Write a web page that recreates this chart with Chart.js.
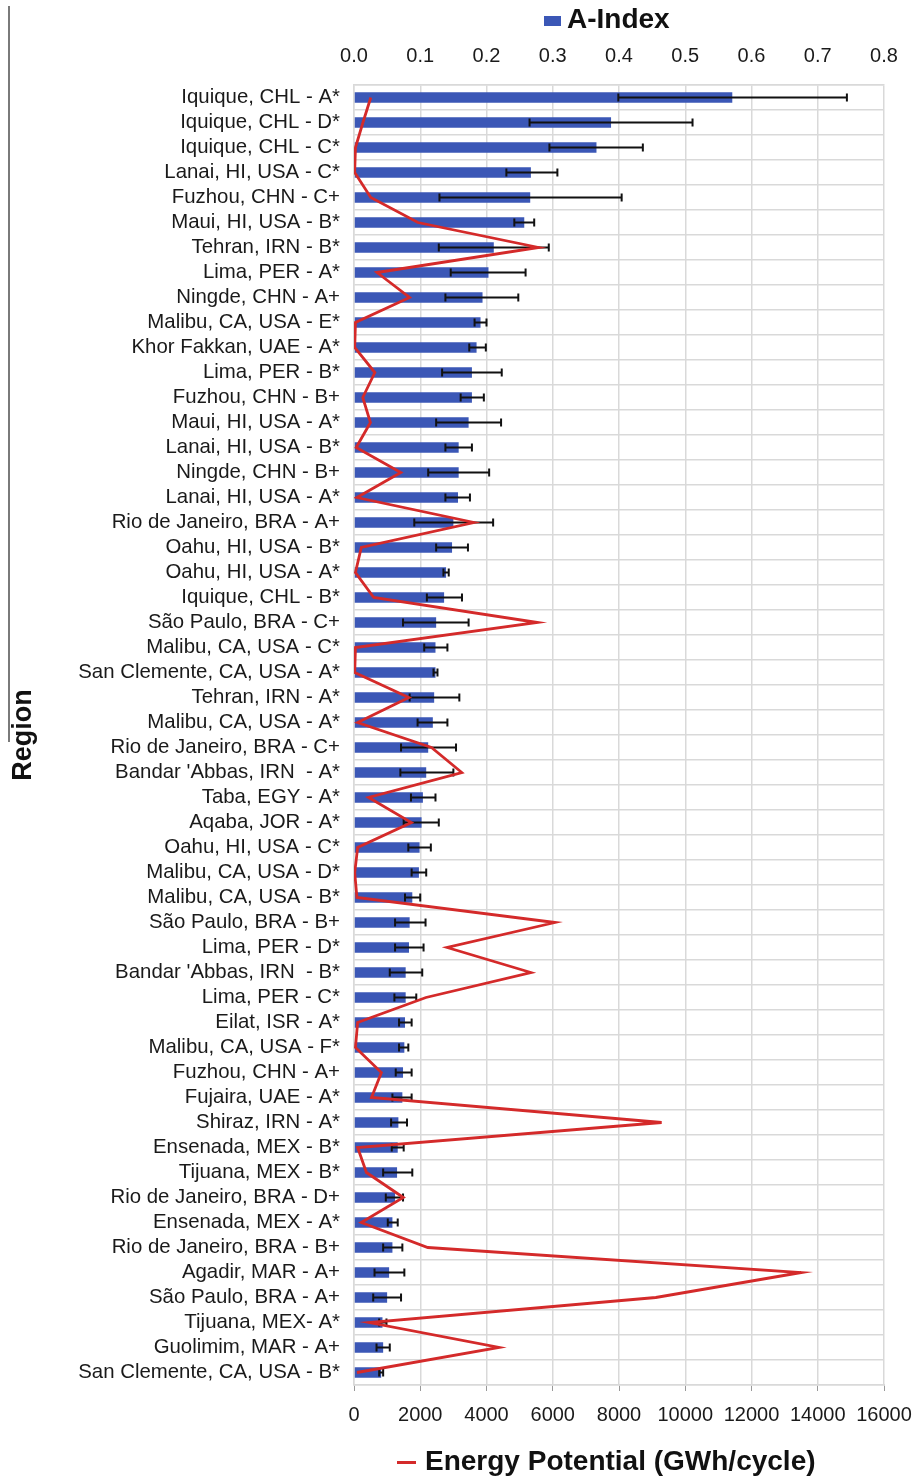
<!DOCTYPE html>
<html>
<head>
<meta charset="utf-8">
<script src="https://cdn.jsdelivr.net/npm/chart.js@4/dist/chart.umd.min.js"></script>
<style>
  html, body { margin: 0; padding: 0; background: #fff; }
  #wrap { position: relative; width: 914px; height: 1478px; font-family: "Liberation Sans", Arial, sans-serif; }
  #leftRule { position: absolute; left: 8px; top: 6px; width: 2px; height: 736px; background: #7a7a7a; }
  .legend { position: absolute; font-weight: bold; font-size: 28px; color: #111; white-space: nowrap; line-height: 1; }
  .legend .sw { display: inline-block; vertical-align: middle; margin-right: 6px; }
</style>
</head>
<body>
<div id="wrap">
  <canvas id="chart"></canvas>
  <div id="leftRule"></div>
  <div class="legend" style="left:544px; top:5px;"><span class="sw" style="width:17px;height:10px;background:#3b57b6;"></span>A-Index</div>
  <div class="legend" style="left:397px; top:1447px;"><span class="sw" style="width:19px;height:3px;background:#d42a2a;margin-right:9px;"></span>Energy Potential (GWh/cycle)</div>
</div>
<script>
// Categories (top to bottom)
const regions = [
  "Iquique, CHL - A*", "Iquique, CHL - D*", "Iquique, CHL - C*", "Lanai, HI, USA - C*",
  "Fuzhou, CHN - C+", "Maui, HI, USA - B*", "Tehran, IRN - B*", "Lima, PER - A*",
  "Ningde, CHN - A+", "Malibu, CA, USA - E*", "Khor Fakkan, UAE - A*", "Lima, PER - B*",
  "Fuzhou, CHN - B+", "Maui, HI, USA - A*", "Lanai, HI, USA - B*", "Ningde, CHN - B+",
  "Lanai, HI, USA - A*", "Rio de Janeiro, BRA - A+", "Oahu, HI, USA - B*", "Oahu, HI, USA - A*",
  "Iquique, CHL - B*", "São Paulo, BRA - C+", "Malibu, CA, USA - C*", "San Clemente, CA, USA - A*",
  "Tehran, IRN - A*", "Malibu, CA, USA - A*", "Rio de Janeiro, BRA - C+", "Bandar 'Abbas, IRN  - A*",
  "Taba, EGY - A*", "Aqaba, JOR - A*", "Oahu, HI, USA - C*", "Malibu, CA, USA - D*",
  "Malibu, CA, USA - B*", "São Paulo, BRA - B+", "Lima, PER - D*", "Bandar 'Abbas, IRN  - B*",
  "Lima, PER - C*", "Eilat, ISR - A*", "Malibu, CA, USA - F*", "Fuzhou, CHN - A+",
  "Fujaira, UAE - A*", "Shiraz, IRN - A*", "Ensenada, MEX - B*", "Tijuana, MEX - B*",
  "Rio de Janeiro, BRA - D+", "Ensenada, MEX - A*", "Rio de Janeiro, BRA - B+", "Agadir, MAR - A+",
  "São Paulo, BRA - A+", "Tijuana, MEX- A*", "Guolimim, MAR - A+", "San Clemente, CA, USA - B*"
]

// A-Index (top axis)
const aIndex = [
  0.571, 0.388, 0.366, 0.267, 0.266, 0.257, 0.211, 0.203, 0.194, 0.191,
  0.185, 0.178, 0.178, 0.173, 0.158, 0.158, 0.157, 0.150, 0.148, 0.139,
  0.136, 0.124, 0.123, 0.123, 0.121, 0.119, 0.112, 0.109, 0.104, 0.102,
  0.099, 0.098, 0.088, 0.084, 0.083, 0.078, 0.078, 0.077, 0.076, 0.074,
  0.073, 0.067, 0.066, 0.065, 0.062, 0.058, 0.058, 0.053, 0.050, 0.043,
  0.044, 0.041
]

// error bar ends
const errLow = [
  0.399, 0.265, 0.295, 0.230, 0.129, 0.242, 0.128, 0.146, 0.138, 0.182,
  0.174, 0.133, 0.161, 0.124, 0.138, 0.112, 0.138, 0.091, 0.124, 0.135,
  0.110, 0.074, 0.106, 0.120, 0.084, 0.096, 0.071, 0.070, 0.086, 0.075,
  0.082, 0.087, 0.077, 0.062, 0.062, 0.054, 0.061, 0.068, 0.068, 0.063,
  0.058, 0.056, 0.057, 0.044, 0.048, 0.051, 0.044, 0.031, 0.029, 0.038,
  0.034, 0.038
]
const errHigh = [
  0.744, 0.511, 0.436, 0.307, 0.404, 0.272, 0.294, 0.259, 0.248, 0.200,
  0.199, 0.223, 0.196, 0.222, 0.178, 0.204, 0.175, 0.210, 0.172, 0.143,
  0.163, 0.173, 0.141, 0.126, 0.159, 0.141, 0.154, 0.150, 0.123, 0.128,
  0.116, 0.109, 0.100, 0.108, 0.105, 0.103, 0.094, 0.087, 0.082, 0.087,
  0.087, 0.080, 0.075, 0.088, 0.074, 0.066, 0.073, 0.076, 0.071, 0.049,
  0.054, 0.044
]

// Energy potential, GWh/cycle (bottom axis)
const energy = [
  507, 270, 44, 20, 507, 1930, 5570, 695, 1677, 44,
  22, 629, 265, 496, 66, 1412, 88, 3618, 220, 44,
  596, 5537, 44, 22, 1655, 110, 2338, 3254, 441, 1732,
  110, 22, 88, 6067, 2813, 5339, 2173, 110, 44, 827,
  529, 9287, 110, 375, 1489, 220, 2228, 13500, 9111, 463,
  4379, 88
]

const gridColor = "#d9d9d9"
const textColor = "#1a1a1a"
Chart.defaults.font.family = "'Liberation Sans', Arial, sans-serif"

// draws the error bars right after the bars, so the red line stays on top
const errorBars = {
  id: "errorBars",
  afterDatasetDraw(chart, args) {
    if (args.index !== 0) return
    const ctx = chart.ctx
    const xs = chart.scales.x
    ctx.save()
    ctx.strokeStyle = "#111"
    ctx.lineWidth = 2
    args.meta.data.forEach((bar, i) => {
      const x1 = xs.getPixelForValue(errLow[i])
      const x2 = xs.getPixelForValue(errHigh[i])
      const y = bar.y
      ctx.beginPath()
      ctx.moveTo(x1, y); ctx.lineTo(x2, y)
      ctx.moveTo(x1, y - 4); ctx.lineTo(x1, y + 4)
      ctx.moveTo(x2, y - 4); ctx.lineTo(x2, y + 4)
      ctx.stroke()
    })
    ctx.restore()
  }
}

// keep the plot box fixed, labels may hang over the edges
const noSidePad = (s, h) => {
  s.height = h
  s.paddingLeft = 0
  s.paddingRight = 0
}

const ctx = document.querySelector("#chart").getContext("2d")
const chart = new Chart(ctx, {
  type: "bar",
  data: {
    labels: regions,
    datasets: [{
      label: "A-Index",
      data: aIndex,
      xAxisID: "x",
      backgroundColor: "#3b57b6",
      barPercentage: 0.42,
      categoryPercentage: 1,
      order: 2
    }, {
      type: "line",
      label: "Energy Potential (GWh/cycle)",
      data: energy,
      indexAxis: "y",
      xAxisID: "x2",
      borderColor: "#d42a2a",
      borderWidth: 2.8,
      pointRadius: 0,
      tension: 0,
      order: 1
    }]
  },
  options: {
    indexAxis: "y",
    responsive: true,
    maintainAspectRatio: false,
    animation: false,
    layout: { padding: { top: 0, bottom: 0, left: 0, right: 30 } },
    plugins: {
      legend: { display: false },
      tooltip: { enabled: false }
    },
    scales: {
      x: {
        position: "top",
        min: 0,
        max: 0.8,
        ticks: {
          stepSize: 0.1,
          color: textColor,
          font: { size: 20 },
          padding: 17,
          callback: (v) => v.toFixed(1)
        },
        grid: { color: gridColor, lineWidth: 1.5, drawTicks: false },
        border: { color: gridColor, width: 1.5 },
        afterFit: (s) => noSidePad(s, 85)
      },
      x2: {
        position: "bottom",
        min: 0,
        max: 16000,
        ticks: {
          stepSize: 2000,
          color: textColor,
          font: { size: 20 },
          padding: 12,
          maxRotation: 0,
          callback: (v) => String(v)
        },
        grid: { drawOnChartArea: false, color: "#999", tickLength: 6 },
        border: { color: gridColor, width: 1.5 },
        afterFit: (s) => noSidePad(s, 93)
      },
      y: {
        ticks: {
          autoSkip: false,
          color: textColor,
          font: { size: 20.4 },
          padding: 14
        },
        grid: { color: gridColor, lineWidth: 1.5, drawTicks: false },
        border: { color: gridColor, width: 1.5 },
        title: {
          display: true,
          text: "Region",
          color: "#111",
          font: { size: 27, weight: "bold" },
          padding: { top: 7, bottom: 0 }
        },
        afterFit: (s) => { s.width = 354 }
      }
    }
  },
  plugins: [errorBars]
})
</script>
</body>
</html>
